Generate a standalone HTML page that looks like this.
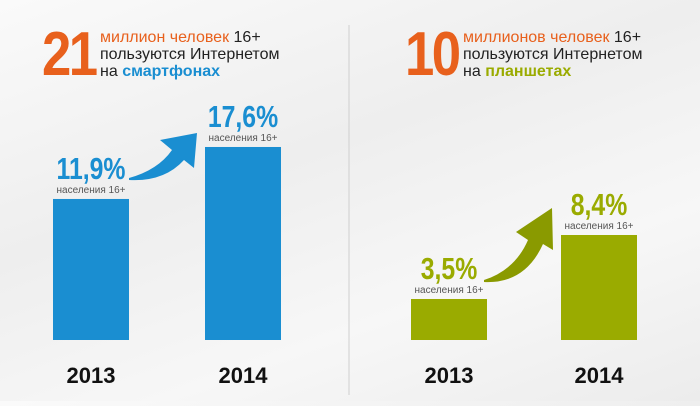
<!DOCTYPE html>
<html><head><meta charset="utf-8"><style>
body{margin:0;width:700px;height:401px;overflow:hidden;background:linear-gradient(160deg,#fafafa,#eeeeee 40%,#f7f7f7 70%,#ececec);font-family:"Liberation Sans",sans-serif;}
</style></head><body>
<svg id="c" width="700" height="401">
<line x1="349" y1="25" x2="349" y2="395" stroke="#cfcfcf" stroke-width="1"/>
<g>
<text x="42" y="75" font-size="62" font-weight="bold" fill="#e8601c" transform="translate(42 0) scale(0.85 1) translate(-42 0)" letter-spacing="-3">21</text>
<text x="100" y="42" font-size="16" fill="#e8601c">миллион человек <tspan fill="#222">16+</tspan></text>
<text x="100" y="59" font-size="16" fill="#222">пользуются Интернетом</text>
<text x="100" y="76" font-size="16" fill="#222">на <tspan fill="#1a8ed1" font-weight="bold">смартфонах</tspan></text>
</g>
<g>
<text x="405" y="75" font-size="62" font-weight="bold" fill="#e8601c" transform="translate(405 0) scale(0.85 1) translate(-405 0)" letter-spacing="-3">10</text>
<text x="463" y="42" font-size="16" fill="#e8601c">миллионов человек <tspan fill="#222">16+</tspan></text>
<text x="463" y="59" font-size="16" fill="#222">пользуются Интернетом</text>
<text x="463" y="76" font-size="16" fill="#222">на <tspan fill="#9aab00" font-weight="bold">планшетах</tspan></text>
</g>
<path d="M129,178 Q158,170 172,150 L160,140 L197,133 L194,168 L184,160 Q164,182 129,180 Z" fill="#1a8ed1"/>
<path d="M484,280 Q515,270 528,240 L516,232 L552,208 L553,250 L543,244 Q525,284 484,282 Z" fill="#8a9a00"/>
</svg>
<script>
const years=["2013","2014"];
const smartphoneValues=[11.9,17.6];
const tabletValues=[3.5,8.4];
const svg=document.getElementById('c');
const NS="http://www.w3.org/2000/svg";
const base=340;
function hSmart(v){return 32.5+9.12*v;}
function hTab(v){return -4.7+13.06*v;}
function el(t,a){const e=document.createElementNS(NS,t);for(const k in a)e.setAttribute(k,a[k]);svg.appendChild(e);return e;}
function draw(vals,xs,scale,color,name){
 vals.forEach((v,i)=>{
  const h=scale(v),x=xs[i],top=base-h;
  const r=el('rect',{x:x,y:top,width:76,height:h,fill:color});
  
  
  const t=el('text',{x:x+38,y:top-20,'font-size':31,'font-weight':'bold',fill:color,'text-anchor':'middle',transform:`translate(${x+38} 0) scale(0.8 1) translate(${-(x+38)} 0)`});
  t.textContent=String(v).replace('.',',')+'%';
  
  
  const s=el('text',{x:x+38,y:top-6,'font-size':10,fill:'#555','text-anchor':'middle'});
  s.textContent='населения 16+';
  
  
  const y=el('text',{x:x+38,y:383,'font-size':22,'font-weight':'bold',fill:'#111','text-anchor':'middle'});
  y.textContent=years[i];
  
  
 });
}
draw(smartphoneValues,[53,205],hSmart,'#1a8ed1','smartphone');
draw(tabletValues,[411,561],hTab,'#9aab00','tablet');
</script>
</body></html>
